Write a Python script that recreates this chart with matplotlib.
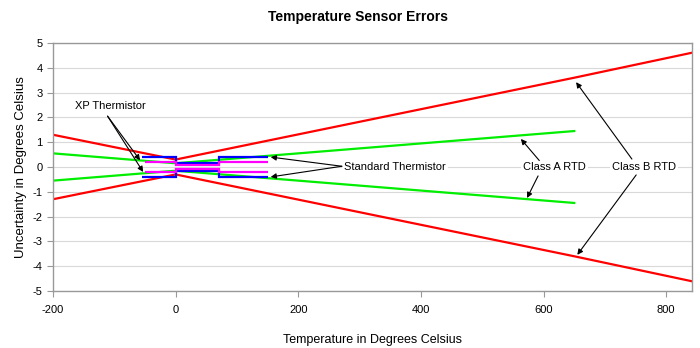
import matplotlib
matplotlib.use("Agg")
import matplotlib.pyplot as plt
import numpy as np

plt.rcParams['font.family'] = ['Liberation Sans', 'DejaVu Sans']
plt.rcParams['axes.unicode_minus'] = False

# Data
classB_x = [-200, 0, 650, 850]
classB_err = [1.3, 0.3, 3.6, 4.65]
classA_x = [-200, 0, 650]
classA_err = [0.55, 0.15, 1.45]
std_edges = [-55, 0, 70, 150]
std_err = [0.4, 0.15, 0.4]
xp_edges = [-50, 0, 70, 150]
xp_err = [0.2, 0.1, 0.2]
x_ticks = [-200, 0, 200, 400, 600, 800]
y_ticks = [-5, -4, -3, -2, -1, 0, 1, 2, 3, 4, 5]

fig = plt.figure(figsize=(7, 3.48), dpi=100)
ax = fig.add_axes([53/700, (348-291)/348, (692-53)/700, (291-43)/348])

for y in y_ticks:
    ax.axhline(y, color='#d9d9d9', lw=0.8, zorder=0)

ax.plot(classB_x, classB_err, color='#ff0000', lw=1.6, zorder=2)
ax.plot(classB_x, [-v for v in classB_err], color='#ff0000', lw=1.6, zorder=2)
ax.plot(classA_x, classA_err, color='#00ee00', lw=1.6, zorder=2)
ax.plot(classA_x, [-v for v in classA_err], color='#00ee00', lw=1.6, zorder=2)
ax.stairs(std_err, std_edges, baseline=None, color='#0000ff', lw=1.6, zorder=3)
ax.stairs([-v for v in std_err], std_edges, baseline=None, color='#0000ff', lw=1.6, zorder=3)
ax.stairs(xp_err, xp_edges, baseline=None, color='#ff00ff', lw=1.6, zorder=4)
ax.stairs([-v for v in xp_err], xp_edges, baseline=None, color='#ff00ff', lw=1.6, zorder=4)

ax.set_xlim(-200, 842)
ax.set_ylim(-5, 5)
ax.set_xticks(x_ticks)
ax.set_yticks(y_ticks)
ax.tick_params(axis='both', labelsize=8, color='#999999', length=4, direction='out')
ax.tick_params(axis='x', pad=6)
for s in ax.spines.values():
    s.set_color('#999999')
    s.set_linewidth(1.0)

ax.set_xlabel('Temperature in Degrees Celsius', fontsize=9, labelpad=14)
ax.set_ylabel('Uncertainty in Degrees Celsius', fontsize=9.5, labelpad=4)
fig.text(358/700, 1 - 17/348, 'Temperature Sensor Errors', fontsize=10, fontweight='bold',
         ha='center', va='center')

bbox = dict(facecolor='white', edgecolor='none', pad=1.5)
ap = dict(arrowstyle='-|>', color='black', lw=0.8, mutation_scale=8, shrinkA=0, shrinkB=0)

ax.text(-107, 2.45, 'XP Thermistor', fontsize=8, ha='center', va='center', bbox=bbox, zorder=6)
ax.annotate('', xy=(-58, 0.27), xytext=(-111, 2.05), arrowprops=ap, zorder=6)
ax.annotate('', xy=(-53, -0.2), xytext=(-111, 2.05), arrowprops=ap, zorder=6)

ax.text(274, 0.0, 'Standard Thermistor', fontsize=8, ha='left', va='center', bbox=bbox, zorder=6)
ax.annotate('', xy=(155, 0.4), xytext=(271, 0.03), arrowprops=ap, zorder=6)
ax.annotate('', xy=(155, -0.4), xytext=(271, 0.03), arrowprops=ap, zorder=6)

ax.text(617, 0.0, 'Class A RTD', fontsize=8, ha='center', va='center', bbox=bbox, zorder=6)
ax.annotate('', xy=(563, 1.13), xytext=(593, 0.26), arrowprops=ap, zorder=6)
ax.annotate('', xy=(573, -1.25), xytext=(591, -0.36), arrowprops=ap, zorder=6)

ax.text(764, 0.0, 'Class B RTD', fontsize=8, ha='center', va='center', bbox=bbox, zorder=6)
ax.annotate('', xy=(653, 3.42), xytext=(744, 0.32), arrowprops=ap, zorder=6)
ax.annotate('', xy=(655, -3.54), xytext=(751, -0.32), arrowprops=ap, zorder=6)

fig.savefig('out.png', dpi=100)
